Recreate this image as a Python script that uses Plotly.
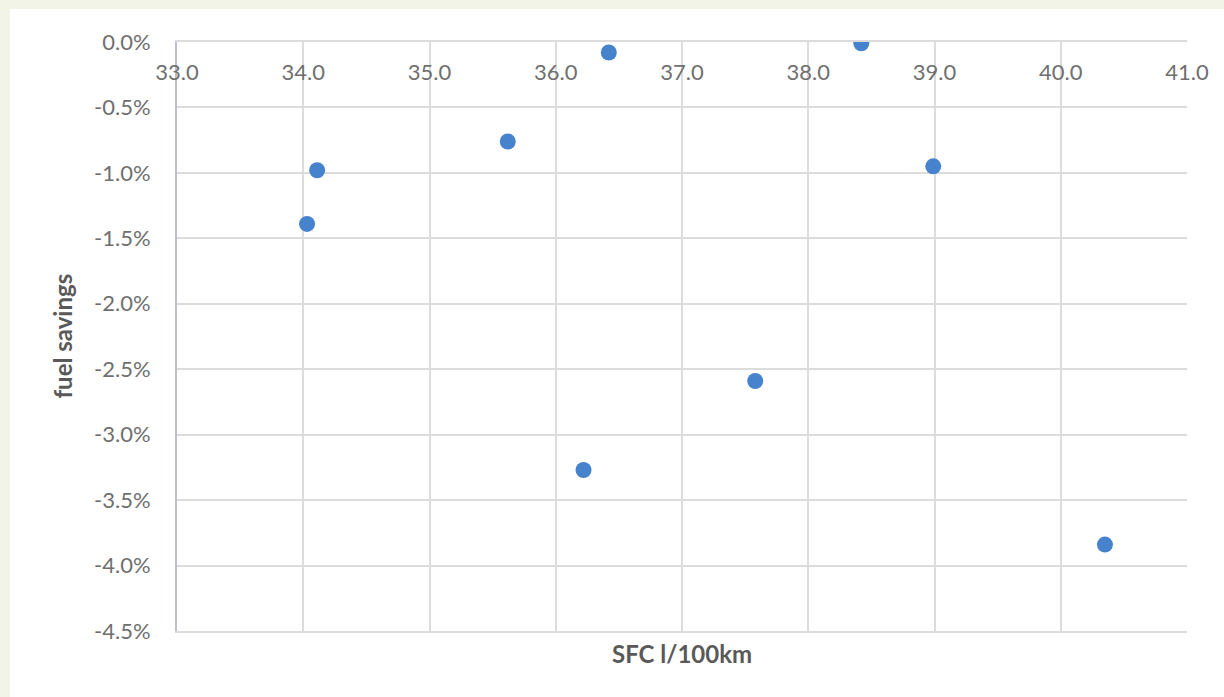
import plotly.graph_objects as go

# Specific fuel consumption (l/100km) and the resulting fuel savings (fraction)
sfc = [34.03, 34.11, 35.62, 36.42, 36.22, 37.58, 38.42, 38.99, 40.35]
savings = [-0.0139, -0.0098, -0.0076, -0.0008, -0.0327, -0.0259, -0.0001, -0.0095, -0.0384]

x_ticks = [33.0, 34.0, 35.0, 36.0, 37.0, 38.0, 39.0, 40.0, 41.0]
y_ticks = [0.0, -0.005, -0.010, -0.015, -0.020, -0.025, -0.030, -0.035, -0.040, -0.045]
y_tick_text = ["0.0%", "-0.5%", "-1.0%", "-1.5%", "-2.0%", "-2.5%", "-3.0%", "-3.5%", "-4.0%", "-4.5%"]

W, H = 1224, 697
L, R, T, B = 177, 37, 42, 66
plot_w = W - L - R
plot_h = H - T - B

FONT = "Lato"
TICK_COLOR = "#6f6f6f"
TITLE_COLOR = "#595959"
GRID = "#dcdcdc"

fig = go.Figure()
fig.add_trace(
    go.Scatter(
        x=sfc,
        y=savings,
        mode="markers",
        marker=dict(size=16, color="#4683cc", line=dict(width=0)),
        showlegend=False,
    )
)
# empty trace so the label axis along the 0 % line gets drawn
fig.add_trace(go.Scatter(x=[], y=[], xaxis="x2", yaxis="y", showlegend=False, hoverinfo="skip"))

# Light frame around the white chart area
def px_x(p):
    return (p - L) / plot_w

def px_y(p):
    return 1 - (p - T) / plot_h

frame = "#f1f4e6"
shapes = [
    dict(type="rect", xref="paper", yref="paper", x0=px_x(0), x1=px_x(10),
         y0=px_y(H), y1=px_y(0), fillcolor=frame, line=dict(width=0), layer="below"),
    dict(type="rect", xref="paper", yref="paper", x0=px_x(0), x1=px_x(W),
         y0=px_y(9), y1=px_y(0), fillcolor=frame, line=dict(width=0), layer="below"),
]

fig.update_layout(
    width=W,
    height=H,
    margin=dict(l=L, r=R, t=T, b=B, autoexpand=False),
    paper_bgcolor="white",
    plot_bgcolor="white",
    font=dict(family=FONT, color=TICK_COLOR),
    shapes=shapes,
    # grid and top/bottom border of the plot
    xaxis=dict(
        range=[33, 41],
        tickvals=x_ticks,
        anchor="y",
        side="bottom",
        showticklabels=False,
        ticks="",
        showgrid=True,
        gridcolor=GRID,
        gridwidth=2,
        showline=True,
        mirror=True,
        linecolor=GRID,
        linewidth=2,
        zeroline=False,
    ),
    # x axis crosses at 0 %, so its labels hang below the top edge
    xaxis2=dict(
        range=[33, 41],
        overlaying="x",
        tickvals=x_ticks,
        ticktext=[f"{v:.1f}" for v in x_ticks],
        anchor="free",
        position=1,
        side="bottom",
        ticks="",
        ticklabelstandoff=15,
        tickfont=dict(size=22, color=TICK_COLOR),
        showgrid=False,
        showline=False,
        zeroline=False,
    ),
    yaxis=dict(
        range=[-0.045, 0],
        tickvals=y_ticks,
        ticktext=y_tick_text,
        ticks="",
        ticklabelstandoff=20,
        tickfont=dict(size=22, color=TICK_COLOR),
        showgrid=True,
        gridcolor=GRID,
        gridwidth=2,
        showline=True,
        linecolor="#bcc0cb",
        linewidth=2,
        zeroline=False,
    ),
    annotations=[
        dict(text="<b>SFC l/100km</b>", xref="paper", yref="paper",
             x=0.5, y=px_y(653), xanchor="center", yanchor="middle",
             showarrow=False, font=dict(family=FONT, size=24, color=TITLE_COLOR)),
        dict(text="<b>fuel savings</b>", xref="paper", yref="paper",
             x=px_x(62), y=0.5, xanchor="center", yanchor="middle", textangle=-90,
             showarrow=False, font=dict(family=FONT, size=24, color=TITLE_COLOR)),
    ],
)

fig.write_html("out.html")
